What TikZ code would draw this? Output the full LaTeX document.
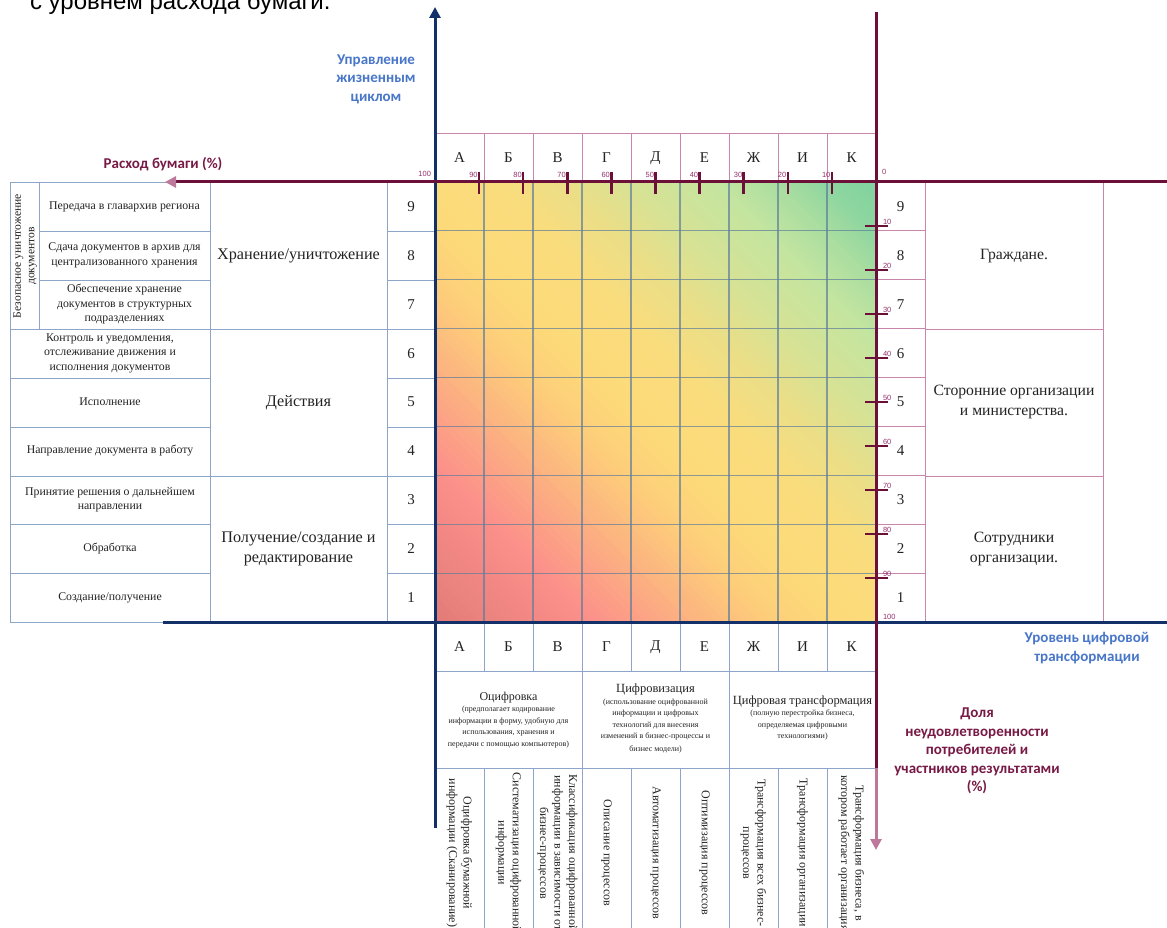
\documentclass[tikz,border=0pt]{standalone}
\usepackage{fontspec}
\setmainfont{Liberation Serif}
\newfontfamily\lblfont{Carlito}
\newfontfamily\arialfont{Liberation Sans}
\usetikzlibrary{arrows.meta}

\definecolor{axblue}{RGB}{20,48,105}
\definecolor{axmar}{RGB}{108,16,58}
\definecolor{axmarlight}{RGB}{190,120,155}
\definecolor{lblblue}{RGB}{72,118,200}
\definecolor{lblmar}{RGB}{120,26,70}
\definecolor{ticklbl}{RGB}{150,50,110}
\definecolor{tblblue}{RGB}{140,165,200}
\definecolor{tblpink}{RGB}{200,135,170}
\definecolor{gridc}{RGB}{95,125,155}
\definecolor{txtc}{RGB}{35,35,35}

\definecolor{h0}{RGB}{226,124,120}
\definecolor{h1}{RGB}{240,134,130}
\definecolor{h2}{RGB}{252,144,138}
\definecolor{h3}{RGB}{252,175,130}
\definecolor{h4}{RGB}{253,205,122}
\definecolor{h5}{RGB}{253,218,121}
\definecolor{h6}{RGB}{250,220,124}
\definecolor{h7}{RGB}{236,222,134}
\definecolor{h8}{RGB}{215,226,148}
\definecolor{h9}{RGB}{195,229,160}
\definecolor{h10}{RGB}{172,222,160}
\definecolor{h11}{RGB}{143,214,160}
\definecolor{h12}{RGB}{125,210,158}

\begin{document}
\begin{tikzpicture}[x=1pt,y=-1pt,
  every node/.style={inner sep=0pt,outer sep=0pt},
  tbl/.style={draw=tblblue, line width=0.9pt},
  tblp/.style={draw=tblpink, line width=0.9pt},
  gridl/.style={draw=gridc, line width=1.1pt, opacity=0.7},
  smalltxt/.style={align=center, font=\fontsize{11.8}{14.5}\selectfont, text=txtc},
  bigtxt/.style={align=center, font=\fontsize{16.2}{19.5}\selectfont, text=txtc},
  numtxt/.style={font=\fontsize{15}{18}\selectfont, text=txtc},
  vtxt/.style={align=center, font=\fontsize{12}{14.5}\selectfont, text=txtc},
  phtxt/.style={align=center, font=\fontsize{8}{11.5}\selectfont, text=txtc},
  axlbl/.style={align=center, font=\lblfont\bfseries\fontsize{15}{18.5}\selectfont},
  tlbl/.style={font=\arialfont\fontsize{7.5}{8}\selectfont, text=ticklbl},
  axisb/.style={draw=axblue, line width=3pt},
  axism/.style={draw=axmar, line width=3pt},
  tickm/.style={draw=axmar, line width=2.5pt},
]
\useasboundingbox (0,0) rectangle (1167,928);
\clip (0,0) rectangle (1167,928);
\fill[white] (0,0) rectangle (1167,928);

% cut heading
\node[anchor=base west, font=\arialfont\fontsize{24}{26}\selectfont] (hdr) at (30,9.5) {с уровнем расхода бумаги.};

% gradient field (diagonal strips)
\begin{scope}
\clip (435,182) rectangle (876,622);
\foreach \ua/\ub/\ca/\cb in {0/0.10/h0/h1, 0.10/0.18/h1/h2, 0.18/0.28/h2/h3, 0.28/0.38/h3/h4, 0.38/0.46/h4/h5, 0.46/0.56/h5/h6, 0.56/0.64/h6/h7, 0.64/0.72/h7/h8, 0.72/0.82/h8/h9, 0.82/0.88/h9/h10, 0.88/0.94/h10/h11, 0.94/1.01/h11/h12} {
  \foreach \m in {0,...,9} {
    \pgfmathsetmacro\cA{881*(\ua+(\ub-\ua)*\m/10)}
    \pgfmathsetmacro\cB{881*(\ua+(\ub-\ua)*(\m+1)/10)+1}
    \pgfmathtruncatemacro\pp{(\m+0.5)*10}
    \fill[\cb!\pp!\ca] (425,{612-\cA}) -- (886,{1073-\cA}) -- (886,{1073-\cB}) -- (425,{612-\cB}) -- cycle;
  }
}
\end{scope}
\foreach \i in {1,...,8} {
  \draw[gridl] ({435+49*\i},182) -- ({435+49*\i},622);
  \draw[gridl] (435,{182+48.889*\i}) -- (876,{182+48.889*\i});
}

% ---------- left table ----------
\draw[tbl] (10,182) rectangle (435,622);
\draw[tbl] (39,182) -- (39,329);
\draw[tbl] (210,182) -- (210,622);
\draw[tbl] (387,182) -- (387,622);
\foreach \y in {231,280,378,427,524.4,573.3} {
  \draw[tbl] (210,\y) -- (39,\y);
  \draw[tbl] (387,\y) -- (435,\y);
}
\draw[tbl] (10,378) -- (39,378);
\draw[tbl] (10,427) -- (39,427);
\draw[tbl] (10,524.4) -- (39,524.4);
\draw[tbl] (10,573.3) -- (39,573.3);
\draw[tbl] (10,329) -- (435,329);
\draw[tbl] (10,476) -- (435,476);

\node[smalltxt, rotate=90, font=\fontsize{11.6}{13.5}\selectfont] (lrot) at (25,256) {Безопасное уничтожение\\документов};
\node[smalltxt] (l9) at (124.5,206.4) {Передача в главархив региона};
\node[smalltxt] (l8) at (124.5,255.3) {Сдача документов в архив для\\централизованного хранения};
\node[smalltxt] (l7) at (124.5,304.2) {Обеспечение хранение\\документов в структурных\\подразделениях};
\node[smalltxt] (l6) at (110,353.1) {Контроль и уведомления,\\отслеживание движения и\\исполнения документов};
\node[smalltxt] (l5) at (110,402) {Исполнение};
\node[smalltxt] (l4) at (110,450.9) {Направление документа в работу};
\node[smalltxt] (l3) at (110,499.8) {Принятие решения о дальнейшем\\направлении};
\node[smalltxt] (l2) at (110,548.7) {Обработка};
\node[smalltxt] (l1) at (110,597.6) {Создание/получение};

\node[bigtxt] (g3) at (298.5,256) {Хранение/уничтожение};
\node[bigtxt] (g2) at (298.5,403) {Действия};
\node[bigtxt] (g1) at (298.5,549) {Получение/создание и\\редактирование};

\foreach \r in {1,...,9} {
  \node[numtxt] (ln\r) at (411,{182+(9-\r+0.5)*48.889}) {\r};
  \node[numtxt] (rn\r) at (900.5,{182+(9-\r+0.5)*48.889}) {\r};
}

% ---------- right table ----------
\draw[tblp] (925,182) -- (925,622);
\draw[tblp] (1103,182) -- (1103,622);
\foreach \i in {1,...,8} \draw[tblp] (876,{182+48.889*\i}) -- (925,{182+48.889*\i});
\draw[tblp] (925,329) -- (1103,329);
\draw[tblp] (925,476) -- (1103,476);
\node[bigtxt, font=\fontsize{15.7}{20}\selectfont] (r3) at (1014,256) {Граждане.};
\node[bigtxt, font=\fontsize{15.7}{20}\selectfont] (r2) at (1014,402) {Сторонние организации\\и министерства.};
\node[bigtxt, font=\fontsize{15.7}{20}\selectfont] (r1) at (1014,549) {Сотрудники\\организации.};

% ---------- top letter header ----------
\draw[tblp] (435,133) -- (876,133);
\foreach \i in {1,...,8} \draw[tblp] ({435+49*\i},133) -- ({435+49*\i},182);

% ---------- bottom table ----------
\foreach \i in {1,2,4,5,7,8} {
  \draw[tbl] ({435+49*\i},622) -- ({435+49*\i},671);
  \draw[tbl] ({435+49*\i},768) -- ({435+49*\i},928);
}
\draw[tbl] (582,622) -- (582,928);
\draw[tbl] (729,622) -- (729,928);
\draw[tbl] (435,671) -- (876,671);
\draw[tbl] (435,768) -- (876,768);

\foreach \L [count=\i] in {А,Б,В,Г,Д,Е,Ж,И,К} {
  \node[numtxt] (tl\i) at ({435+49*(\i-0.5)},158) {\L};
  \node[numtxt] (bl\i) at ({435+49*(\i-0.5)},647) {\L};
}

\node[phtxt] (ph1) at (508.5,720) {{\fontsize{12}{13}\selectfont Оцифровка}\\(предполагает кодирование\\информации в форму, удобную для\\использования, хранения и\\передачи с помощью компьютеров)};
\node[phtxt] (ph2) at (655.5,719) {{\fontsize{12.5}{13}\selectfont Цифровизация}\\(использование оцифрованной\\информации и цифровых\\технологий для внесения\\изменений в бизнес-процессы и\\[1.5pt]бизнес модели)};
\node[phtxt] (ph3) at (802.5,718) {{\fontsize{12.5}{13}\selectfont Цифровая трансформация}\\(полную перестройка бизнеса,\\определяемая цифровыми\\технологиями)};

\node[vtxt, rotate=-90] (bt1) at (459.5,853) {Оцифровка бумажной\\информации (Сканирование)};
\node[vtxt, rotate=-90] (bt2) at (508.5,853) {Систематизация оцифрованной\\информации};
\node[vtxt, rotate=-90] (bt3) at (557.5,853) {Классификация оцифрованной\\информации в зависимости от\\бизнес-процессов};
\node[vtxt, rotate=-90] (bt4) at (606.5,853) {Описание процессов};
\node[vtxt, rotate=-90] (bt5) at (655.5,853) {Автоматизация процессов};
\node[vtxt, rotate=-90] (bt6) at (704.5,853) {Оптимизация процессов};
\node[vtxt, rotate=-90] (bt7) at (753.5,853) {Трансформация всех бизнес-\\процессов};
\node[vtxt, rotate=-90] (bt8) at (802.5,853) {Трансформация организации};
\node[vtxt, rotate=-90] (bt9) at (851.5,853) {Трансформация бизнеса, в\\котором работает организация};

% ---------- axes ----------
\coordinate (bvTop) at (435,7);
\coordinate (bvBot) at (435,828);
\coordinate (bhL) at (163,622);
\coordinate (bhR) at (1167,622);
\coordinate (mhR) at (1167,182);
\coordinate (mhL) at (165,182);
\coordinate (mvTop) at (876,12);
\coordinate (mvMid) at (876,768);
\coordinate (mvBot) at (876,850);

\draw[axisb] (bhL) -- (bhR);
\draw[axisb, -{Triangle[length=11pt,width=11pt]}] (bvBot) -- (bvTop);
\draw[axism, -{Triangle[length=11pt,width=11pt,color=axmarlight]}] (mhR) -- (mhL);
\draw[axism] (mvTop) -- (mvMid);
\draw[draw=axmarlight, line width=3pt, -{Triangle[length=11pt,width=11pt]}] (mvMid) -- (mvBot);

% ticks
\foreach \k in {1,...,9} {
  \draw[tickm] ({435+44.1*\k},172) -- ({435+44.1*\k},194);
  \draw[tickm] (865,{182+44*\k}) -- (888,{182+44*\k});
  \pgfmathtruncatemacro\tv{100-10*\k}
  \pgfmathtruncatemacro\rv{10*\k}
  \node[tlbl, anchor=east] (tt\k) at ({435+44.1*\k-1.5},175) {\tv};
  \node[tlbl, anchor=west] (rt\k) at (883,{182+44*\k-4.5}) {\rv};
}
\node[tlbl, anchor=east] (tt0) at (431,174) {100};
\node[tlbl, anchor=west] (tt10) at (882,172) {0};
\node[tlbl, anchor=west] (rt10) at (883,617) {100};

% axis labels
\node[axlbl, text=lblblue] (lblLC) at (376,79) {Управление\\жизненным\\циклом};
\node[axlbl, text=lblmar] (lblPaper) at (163,164) {Расход бумаги (\%)};
\node[axlbl, text=lblblue] (lblDT) at (1087,648) {Уровень цифровой\\трансформации};
\node[axlbl, text=lblmar] (lblDis) at (977,751) {Доля\\неудовлетворенности\\потребителей и\\участников результатами\\(\%)};
\end{tikzpicture}
\end{document}
